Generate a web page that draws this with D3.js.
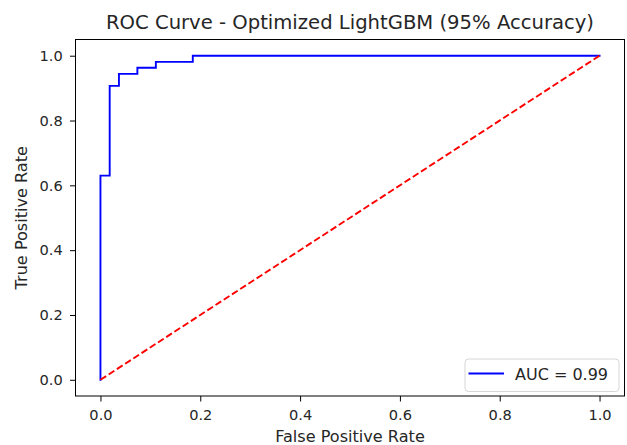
<!DOCTYPE html>
<html><head><meta charset="utf-8">
<script src="https://cdn.jsdelivr.net/npm/d3@7"></script>
<style>body{margin:0;background:#fff}svg{display:block}text{font-family:"DejaVu Sans",sans-serif;fill:#262626}</style>
</head><body>
<svg id="c" width="627" height="445"></svg>
<script>
const fpr = [0, 0, 0.0185, 0.0185, 0.037, 0.037, 0.074, 0.074, 0.111, 0.111, 0.185, 0.185, 1.0];
const tpr = [0, 0.630, 0.630, 0.907, 0.907, 0.944, 0.944, 0.963, 0.963, 0.981, 0.981, 1.0, 1.0];
const diagX = [0, 1];
const diagY = [0, 1];
const xTicks = [0, 0.2, 0.4, 0.6, 0.8, 1.0];
const yTicks = [0, 0.2, 0.4, 0.6, 0.8, 1.0];
const title = "ROC Curve - Optimized LightGBM (95% Accuracy)";
const legendLabel = "AUC = 0.99";

const svg = d3.select("#c");
const L = 75.5, R = 624.5, T = 39.5, B = 396;
const x = d3.scaleLinear().domain([-0.05, 1.05]).range([L, R]);
const y = d3.scaleLinear().domain([-0.05, 1.05]).range([B, T]);

svg.append("clipPath").attr("id","cl").append("rect")
  .attr("x", L).attr("y", T).attr("width", R-L).attr("height", B-T);

const line = d3.line().x(d => x(d[0])).y(d => y(d[1]));
const g = svg.append("g").attr("clip-path","url(#cl)");
g.append("path").datum(fpr.map((f,i)=>[f,tpr[i]]))
  .attr("d", line).attr("fill","none").attr("stroke","#0000ff").attr("stroke-width",1.9)
  .attr("stroke-linejoin","miter").attr("stroke-linecap","square");
g.append("path").datum(diagX.map((f,i)=>[f,diagY[i]]))
  .attr("d", line).attr("fill","none").attr("stroke","#ff0000").attr("stroke-width",1.9)
  .attr("stroke-dasharray","6.8,3");

const xa = svg.append("g").attr("transform",`translate(0,${B})`)
  .call(d3.axisBottom(x).tickValues(xTicks).tickFormat(d3.format(".1f")).tickSize(5.5).tickPadding(8));
const ya = svg.append("g").attr("transform",`translate(${L},0)`)
  .call(d3.axisLeft(y).tickValues(yTicks).tickFormat(d3.format(".1f")).tickSize(5.5).tickPadding(7.3));
[xa, ya].forEach(a => {
  a.select(".domain").remove();
  a.selectAll(".tick line").attr("stroke","#000").attr("stroke-width",1);
  a.selectAll(".tick text").attr("font-size","14.6px").attr("font-family","DejaVu Sans").attr("fill","#262626");
});

svg.append("rect").attr("x",L).attr("y",T).attr("width",R-L).attr("height",B-T)
  .attr("fill","none").attr("stroke","#000").attr("stroke-width",1);

svg.append("text").attr("x",(L+R)/2).attr("y",29.3).attr("text-anchor","middle")
  .attr("font-size","19.6px").text(title);
svg.append("text").attr("x",(L+R)/2).attr("y",441.7).attr("text-anchor","middle")
  .attr("font-size","16.1px").text("False Positive Rate");
svg.append("text").attr("transform",`translate(27,${(T+B)/2}) rotate(-90)`).attr("text-anchor","middle")
  .attr("font-size","16.1px").text("True Positive Rate");

const lg = svg.append("g");
lg.append("rect").attr("x",465).attr("y",359).attr("width",154).attr("height",32.5).attr("rx",3.5)
  .attr("fill","#fff").attr("fill-opacity",0.8).attr("stroke","#d6d6d6").attr("stroke-width",1);
lg.append("line").attr("x1",468.5).attr("x2",504).attr("y1",373.5).attr("y2",373.5)
  .attr("stroke","#0000ff").attr("stroke-width",1.9);
lg.append("text").attr("x",515).attr("y",379.5).attr("font-size","16px").text(legendLabel);
</script>
</body></html>
